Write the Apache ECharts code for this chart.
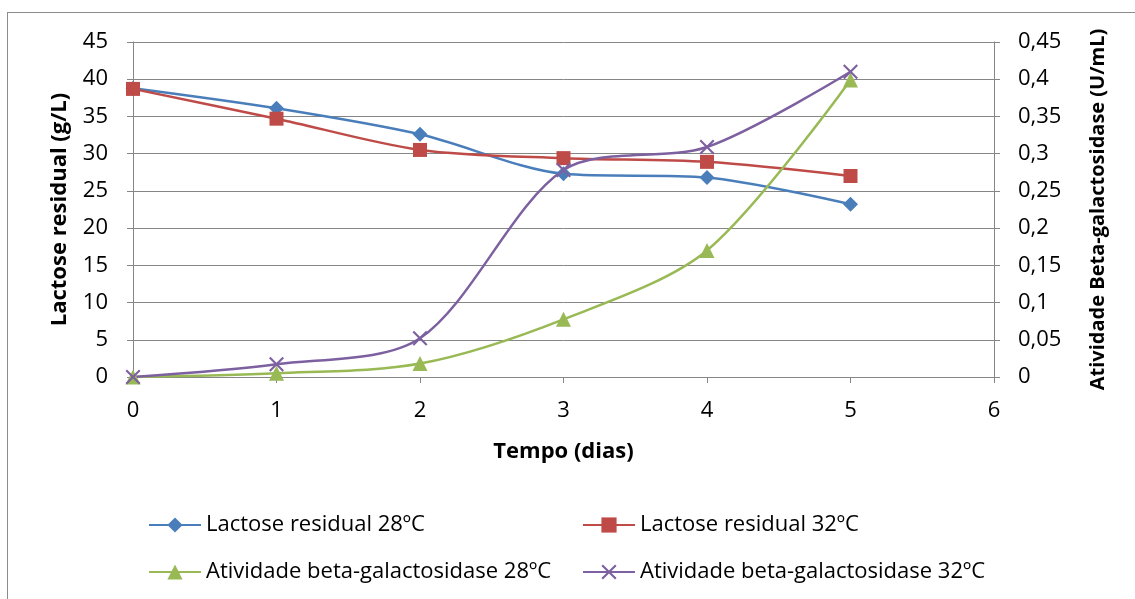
<!DOCTYPE html>
<html>
<head>
<meta charset="utf-8">
<script src="https://cdn.jsdelivr.net/npm/echarts@6/dist/echarts.min.js"></script>
<style>
html,body{margin:0;padding:0;background:#fff;}
#frame{position:absolute;left:7px;top:12px;width:1140px;height:600px;border:1px solid #8c8c8c;box-sizing:border-box;}
#chart{position:absolute;left:0;top:0;width:1135px;height:599px;}
</style>
</head>
<body>
<div id="frame"></div>
<div id="chart"></div>
<script>
var days = [0, 1, 2, 3, 4, 5];
var lactose28 = [38.8, 36.1, 32.6, 27.3, 26.8, 23.2];
var lactose32 = [38.7, 34.7, 30.5, 29.4, 28.9, 27.0];
var atividade28 = [0, 0.005, 0.018, 0.0775, 0.17, 0.399];
var atividade32 = [0, 0.017, 0.052, 0.278, 0.309, 0.41];
var seriesNames = ['Lactose residual 28ºC', 'Lactose residual 32ºC', 'Atividade beta-galactosidase 28ºC', 'Atividade beta-galactosidase 32ºC'];
var colors = ['#4A7EBB', '#BE4B48', '#98B954', '#7D60A0'];

function pairs(arr){ return days.map(function(d,i){ return [d, arr[i]]; }); }
var FONT = 'Open Sans';
var FS = 22;
var crossPath = 'path://M0,1L1,0L5,4L9,0L10,1L6,5L10,9L9,10L5,6L1,10L0,9L4,5Z';

var chart = echarts.init(document.getElementById('chart'), null, {renderer:'canvas'});
var axisGray = '#868686';
function mkLegend(name, left, top){
  return {data:[name], left:left, top:top, itemWidth:52, itemHeight:19, itemGap:0, padding:0,
    textStyle:{fontFamily:FONT, fontSize:FS, color:'#000'}};
}
var option = {
  animation:false,
  color: colors,
  textStyle:{fontFamily:FONT},
  legend:[
    mkLegend(seriesNames[0], 148, 514),
    mkLegend(seriesNames[1], 582, 514),
    mkLegend(seriesNames[2], 148, 561),
    mkLegend(seriesNames[3], 582, 561)
  ],
  grid:{left:133, right:141, top:42, bottom:222, containLabel:false},
  xAxis:{type:'value', min:0, max:6, interval:1,
    name:'Tempo (dias)', nameLocation:'middle', nameGap:64,
    nameTextStyle:{fontFamily:FONT, fontSize:FS, fontWeight:'bold', color:'#000'},
    axisLine:{lineStyle:{color:axisGray, width:1}},
    axisTick:{show:true, length:6, lineStyle:{color:axisGray}},
    axisLabel:{fontFamily:FONT, fontSize:FS, color:'#000', margin:23},
    splitLine:{show:false}},
  yAxis:[
    {type:'value', min:0, max:45, interval:5, position:'left',
     name:'Lactose residual (g/L)', nameLocation:'middle', nameGap:62,
     nameTextStyle:{fontFamily:FONT, fontSize:FS, fontWeight:'bold', color:'#000'},
     axisLine:{show:true, lineStyle:{color:axisGray}},
     axisTick:{show:true, length:6, lineStyle:{color:axisGray}},
     axisLabel:{fontFamily:FONT, fontSize:FS, color:'#000', margin:25},
     splitLine:{show:true, lineStyle:{color:axisGray, width:1}}},
    {type:'value', min:0, max:0.45, interval:0.05, position:'right',
     name:'Atividade Beta-galactosidase (U/mL)', nameLocation:'middle', nameGap:94, nameRotate:90,
     nameTextStyle:{fontFamily:FONT, fontSize:20, fontWeight:'bold', color:'#000'},
     axisLine:{show:true, lineStyle:{color:axisGray}},
     axisTick:{show:true, length:6, lineStyle:{color:axisGray}},
     axisLabel:{fontFamily:FONT, fontSize:FS, color:'#000', margin:24,
       formatter:function(v){ return String(+v.toFixed(2)).replace('.', ','); }},
     splitLine:{show:false}}
  ],
  series:[
    {name:seriesNames[0], type:'line', yAxisIndex:0, data:pairs(lactose28), smooth:0.3,
     symbol:'diamond', symbolSize:15, lineStyle:{width:2.5}, itemStyle:{color:colors[0]}},
    {name:seriesNames[1], type:'line', yAxisIndex:0, data:pairs(lactose32), smooth:0.3,
     symbol:'rect', symbolSize:14, lineStyle:{width:2.5}, itemStyle:{color:colors[1]}},
    {name:seriesNames[2], type:'line', yAxisIndex:1, data:pairs(atividade28), smooth:0.3,
     symbol:'triangle', symbolSize:15, lineStyle:{width:2.5}, itemStyle:{color:colors[2]}},
    {name:seriesNames[3], type:'line', yAxisIndex:1, data:pairs(atividade32), smooth:0.3,
     symbol:crossPath, symbolSize:15, lineStyle:{width:2.5}, itemStyle:{color:colors[3]}}
  ]
};
chart.setOption(option);
</script>
</body>
</html>
